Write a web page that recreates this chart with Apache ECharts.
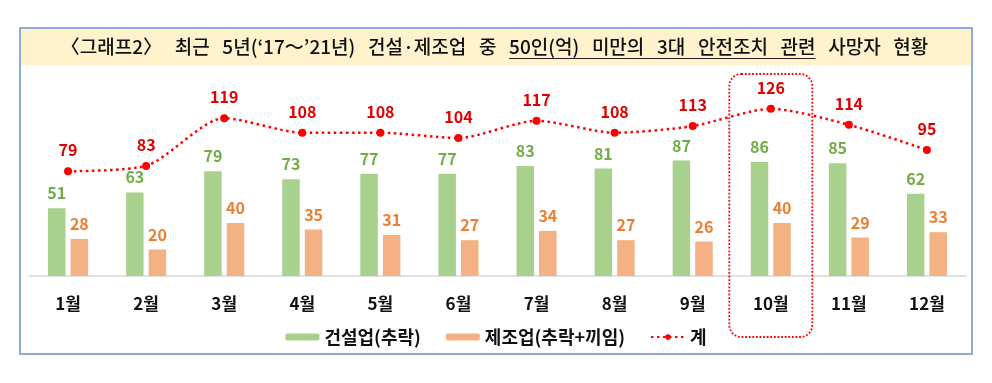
<!DOCTYPE html>
<html><head><meta charset="utf-8">
<script src="https://cdn.jsdelivr.net/npm/echarts@6/dist/echarts.min.js"></script>
<style>html,body{margin:0;padding:0;background:#fff}#c{width:992px;height:383px}</style>
</head><body><div id="c"></div>
<script>
const months = ['1월','2월','3월','4월','5월','6월','7월','8월','9월','10월','11월','12월'];
const construction = [51,63,79,73,77,77,83,81,87,86,85,62];
const manufacturing = [28,20,40,35,31,27,34,27,26,40,29,33];
const total = [79,83,119,108,108,104,117,108,113,126,114,95];
const seriesNames = ['건설업(추락)','제조업(추락+끼임)','계'];
const titlePre = '〈그래프2〉 최근 5년(‘17～’21년) 건설·제조업 중 ';
const titleMid = '50인(억) 미만의 3대 안전조치 관련';
const titlePost = ' 사망자 현황';
const highlightMonth = '10월';

const FONT = '"Noto Sans CJK KR", "Noto Sans", sans-serif';
const TFS = 19;
const SP = '\u2002\u2006';
const tPre = titlePre.replace(/ /g, SP);
const tMid = titleMid.replace(/ /g, SP);
const tPost = titlePost.replace(/ /g, SP);
const chart = echarts.init(document.getElementById('c'), null, {renderer:'canvas'});

const tFont = '500 ' + TFS + 'px ' + FONT;
const ctx = document.createElement('canvas').getContext('2d');
ctx.font = tFont;
const w1 = ctx.measureText(tPre).width;
const w2 = ctx.measureText(tMid).width;
const w3 = ctx.measureText(tPost).width;
const tStart = 494.5 - (w1 + w2 + w3) / 2;

chart.setOption({
  animation: false,
  grid: {left: 29, right: 26, top: 77, bottom: 107, outerBoundsMode: 'none'},
  legend: {
    data: seriesNames, left: 'center', top: 323,
    itemWidth: 34, itemHeight: 7, itemGap: 25,
    textStyle: {fontSize: 18, fontWeight: 'bold', color: '#111', fontFamily: FONT}
  },
  xAxis: {
    type: 'category', data: months,
    axisTick: {show: false},
    axisLine: {lineStyle: {color: '#D9D9D9', width: 1.5}},
    axisLabel: {margin: 19, fontSize: 17, fontWeight: 'bold', color: '#111', fontFamily: FONT}
  },
  yAxis: {type: 'value', min: 0, max: 150, show: false, splitLine: {show: false}},
  series: [
    {name: seriesNames[0], type: 'bar', data: construction, barWidth: 17.5, barGap: '29%',
     itemStyle: {color: '#A9D18E'},
     label: {show: true, position: 'top', distance: 7, color: '#70AD47', fontSize: 16, fontWeight: 'bold', fontFamily: FONT}},
    {name: seriesNames[1], type: 'bar', data: manufacturing, barWidth: 17.5,
     itemStyle: {color: '#F4B183'},
     label: {show: true, position: 'top', distance: 7, color: '#ED7D31', fontSize: 16, fontWeight: 'bold', fontFamily: FONT}},
    {name: seriesNames[2], type: 'line', data: total, smooth: 0.25,
     symbol: 'circle', symbolSize: 8,
     itemStyle: {color: '#FF0000'},
     lineStyle: {color: '#FF0000', width: 2.5, type: [2.5, 3.5]},
     label: {show: true, position: 'top', distance: 9, color: '#E00000', fontSize: 16, fontWeight: 'bold', fontFamily: FONT}}
  ]
});

const cx = chart.convertToPixel({xAxisIndex: 0}, highlightMonth);
chart.setOption({
  graphic: [
    {type: 'rect', z: -10, shape: {x: 21, y: 29, width: 950, height: 36}, style: {fill: '#FFF2CC'}},
    {type: 'rect', z: 10, shape: {x: 20, y: 28, width: 952, height: 326}, style: {fill: null, stroke: '#8FAADC', lineWidth: 2}},
    {type: 'text', z: 10, x: tStart, y: 47, style: {text: tPre + tMid + tPost, font: tFont, fill: '#111', textAlign: 'left', textVerticalAlign: 'middle'}},
    {type: 'line', z: 10, shape: {x1: tStart + w1, y1: 58.5, x2: tStart + w1 + w2, y2: 58.5}, style: {stroke: '#222', lineWidth: 1}},
    {type: 'rect', z: 10, shape: {x: cx - 41.5, y: 74, width: 83, height: 263, r: 12}, style: {fill: null, stroke: '#FF0000', lineWidth: 1.8, lineDash: [1.8, 1.8]}}
  ]
});
</script></body></html>
